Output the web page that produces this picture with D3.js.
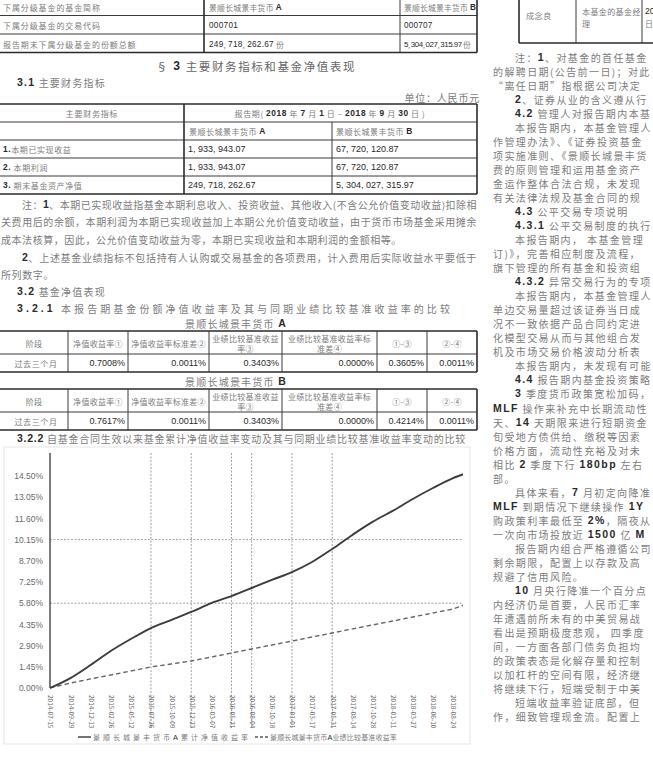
<!DOCTYPE html>
<html>
<head>
<meta charset="utf-8">
<style>
html, body { margin: 0; padding: 0; background: #fff; overflow: hidden; }
svg text { font-family: "Noto Sans CJK SC", sans-serif; fill: #7c7c7c; }
svg text .num, svg text.num { font-family: "Liberation Sans Narrow", "Liberation Sans", sans-serif; fill: #2a2a2a; }
.rule { stroke: #3a3a3a; stroke-width: 1; }
.rule-b { stroke: #2a2a2a; stroke-width: 1.6; }
</style>
</head>
<body>
<svg width="653" height="772"></svg>
<script src="https://d3js.org/d3.v7.min.js"></script>
<script>
// ---- chart data ----
var dates = ["2014-07-15","2014-09-29","2014-12-13","2015-02-26","2015-05-12","2015-07-26",
             "2015-10-09","2015-12-23","2016-03-07","2016-05-21","2016-08-04","2016-10-18",
             "2017-01-01","2017-03-17","2017-05-31","2017-08-14","2017-10-28","2018-01-11",
             "2018-03-27","2018-06-10","2018-08-24","2018-09-30"];
var fundReturn  = [0, 0.68, 1.57, 2.53, 3.35, 4.10, 4.65, 5.20, 5.81, 6.29, 6.84, 7.39,
                   7.93, 8.62, 9.51, 10.47, 11.36, 12.11, 12.93, 13.68, 14.36, 14.62];
var benchReturn = [0, 0.34, 0.62, 0.89, 1.16, 1.44, 1.64, 1.85, 2.12, 2.39, 2.67, 2.94,
                   3.21, 3.49, 3.76, 4.04, 4.31, 4.58, 4.86, 5.13, 5.40, 5.66];
var yTickValues = [0, 1.45, 2.90, 4.35, 5.80, 7.25, 8.70, 10.15, 11.60, 13.05, 14.50];
var yTickLabels = ["0.00%","1.45%","2.90%","4.35%","5.80%","7.25%","8.70%","10.15%","11.60%","13.05%","14.50%"];
var xTickDates = dates.slice(0, 21);
var vGridDates = ["2015-07-26","2015-12-23","2016-05-21","2016-08-04","2017-01-01","2017-05-31"];
var hGridValues = [5.80, 10.15];
var legendNames = ["景顺长城景丰货币A累计净值收益率", "景顺长城景丰货币A业绩比较基准收益率"];

// ---- table contents ----
var shareRows = [
  ["下属分级基金的基金简称", "景顺长城景丰货币 A", "景顺长城景丰货币 B"],
  ["下属分级基金的交易代码", "000701", "000707"],
  ["报告期末下属分级基金的份额总额", "249, 718, 262.67 份", "5, 304, 027, 315.97 份"]
];
var finRows = [
  ["1.本期已实现收益", "1, 933, 943.07", "67, 720, 120.87"],
  ["2. 本期利润", "1, 933, 943.07", "67, 720, 120.87"],
  ["3. 期末基金资产净值", "249, 718, 262.67", "5, 304, 027, 315.97"]
];
var navHeader = ["阶段", "净值收益率①", "净值收益率标准差②", "业绩比较基准收益|率③", "业绩比较基准收益率标|准差④", "①-③", "②-④"];
var navRowA = ["过去三个月", "0.7008%", "0.0011%", "0.3403%", "0.0000%", "0.3605%", "0.0011%"];
var navRowB = ["过去三个月", "0.7617%", "0.0011%", "0.3403%", "0.0000%", "0.4214%", "0.0011%"];

var svg = d3.select("svg");
var page = svg.append("g");

function fill(t, str, o) {
  str.split(/([0-9A-Za-z.%]+)/).forEach(function(s) {
    if (!s) return;
    var sp = t.append("tspan").text(s);
    if (/^[0-9A-Za-z.%]+$/.test(s) && !o.num) sp.attr("class", "num").attr("font-weight", o.bold === false ? null : "bold").attr("font-size", (o.size || 10) * 1.05);
  });
}
// text with latin/number runs set in the narrow face
function put(g, x, y, str, o) {
  o = o || {};
  var t = g.append("text").attr("x", x).attr("y", y)
      .attr("font-size", o.size || 10)
      .attr("text-anchor", o.anchor || "start")
      .attr("dominant-baseline", "central")
      .attr("letter-spacing", o.ls || 0);
  if (o.num) t.attr("class", "num");
  fill(t, str, o);
  if (o.width) {
    var len = t.node().getComputedTextLength();
    t.attr("letter-spacing", (o.width - len) / str.length);
  }
  // the page is cropped on the right: keep only what fits
  if (o.clip) {
    var s = str;
    while (s.length > 1 && x + t.node().getComputedTextLength() > o.clip) {
      s = s.slice(0, -1);
      t.selectAll("tspan").remove();
      fill(t, s, o);
    }
  }
  if (o.fill) t.style("fill", o.fill);
  return t;
}
function hline(x1, x2, y, bold) {
  page.append("line").attr("class", bold ? "rule-b" : "rule").attr("x1", x1).attr("x2", x2).attr("y1", y).attr("y2", y);
}
function vline(x, y1, y2, bold) {
  page.append("line").attr("class", bold ? "rule-b" : "rule").attr("x1", x).attr("x2", x).attr("y1", y1).attr("y2", y2);
}

// ===== top-left share table =====
var st = -3;
[st, st + 18.5, st + 37, st + 55.5].forEach(function(y, i) { hline(0, 477, y, i == 0 || i == 3); });
vline(204, 0, st + 55.5, true); vline(400, 0, st + 55.5); vline(477, 0, st + 55.5, true);
shareRows.forEach(function(r, i) {
  var y = st + 9.5 + i * 18.5;
  put(page, 3, y, r[0], {size: 8, ls: 0.9});
  put(page, 209, y, r[1], {size: 7.8, ls: 0.3, bold: i != 0 ? false : "bold"});
  put(page, 404, y, r[2], i == 2 ? {size: 7.6, width: 66, bold: false} : {size: 7.8, ls: 0.2, bold: i != 0 ? false : "bold"});
});

// ===== section 3 heading =====
put(page, 156, 66, "§ 3 主要财务指标和基金净值表现", {size: 11.5, ls: 1.6, fill: "#666"});
put(page, 17, 82, "3.1 主要财务指标", {size: 10, ls: 1.2});
put(page, 480, 97, "单位：人民币元", {size: 10, ls: 0.8, anchor: "end"});

// ===== financial indicators table =====
var ft = 104;
[ft, ft + 18, ft + 36, ft + 54, ft + 72, ft + 90].forEach(function(y, i) { hline(0, 477, y, i == 0 || i == 5); });
vline(184, ft, ft + 90, true); vline(332, ft + 18, ft + 90); vline(477, ft, ft + 90, true);
put(page, 92, ft + 9, "主要财务指标", {size: 8, ls: 0.8, anchor: "middle"});
put(page, 330, ft + 9, "报告期( 2018 年 7 月 1 日 – 2018 年 9 月 30 日 )", {size: 8, ls: 0.6, anchor: "middle"});
put(page, 189, ft + 27, "景顺长城景丰货币 A", {size: 8, ls: 0.5});
put(page, 336, ft + 27, "景顺长城景丰货币 B", {size: 8, ls: 0.5});
finRows.forEach(function(r, i) {
  var y = ft + 45 + i * 18;
  put(page, 3, y, r[0], {size: 8, ls: 0.6});
  put(page, 188, y, r[1], {size: 9, num: true});
  put(page, 336, y, r[2], {size: 9, num: true});
});

// ===== notes =====
put(page, 22, 204, "注：1、本期已实现收益指基金本期利息收入、投资收益、其他收入(不含公允价值变动收益)扣除相", {size: 10, width: 455});
put(page, 1, 221, "关费用后的余额，本期利润为本期已实现收益加上本期公允价值变动收益，由于货币市场基金采用摊余", {size: 10, width: 476});
put(page, 1, 239, "成本法核算，因此，公允价值变动收益为零，本期已实现收益和本期利润的金额相等。", {size: 10, ls: 0.55});
put(page, 22, 257, "2、上述基金业绩指标不包括持有人认购或交易基金的各项费用，计入费用后实际收益水平要低于", {size: 10, width: 455});
put(page, 1, 274, "所列数字。", {size: 10, ls: 0.6});
put(page, 17, 291, "3.2 基金净值表现", {size: 10, ls: 1.2});
put(page, 17, 308, "3.2.1 本报告期基金份额净值收益率及其与同期业绩比较基准收益率的比较", {size: 10, width: 436});

// ===== NAV comparison tables =====
var colX = [0, 68, 128, 209, 282, 377, 427, 477];
function navTable(top, title, row) {
  put(page, 236, top - 8, title, {size: 10, ls: 1.2, anchor: "middle"});
  var mid = top + 23, bot = top + 41;
  hline(0, 477, top, true); hline(0, 477, mid); hline(0, 477, bot, true);
  colX.forEach(function(x, i) { if (i > 0) vline(x, top, bot, i == 7); });
  navHeader.forEach(function(h, i) {
    var cx = (colX[i] + colX[i + 1]) / 2;
    var parts = h.split("|");
    if (parts.length == 1) put(page, cx, top + 11.5, h, {size: 8, ls: 0.3, anchor: "middle"});
    else {
      put(page, cx, top + 6.5, parts[0], {size: 8, ls: 0.3, anchor: "middle"});
      put(page, cx, top + 16.5, parts[1], {size: 8, ls: 0.3, anchor: "middle"});
    }
  });
  row.forEach(function(v, i) {
    if (i == 0) put(page, (colX[0] + colX[1]) / 2 + 2, mid + 9, v, {size: 8, ls: 0.6, anchor: "middle"});
    else put(page, colX[i + 1] - 3, mid + 9, v, {size: 9, num: true, anchor: "end"});
  });
}
navTable(331, "景顺长城景丰货币 A", navRowA);
navTable(389, "景顺长城景丰货币 B", navRowB);

put(page, 17, 438, "3.2.2 自基金合同生效以来基金累计净值收益率变动及其与同期业绩比较基准收益率变动的比较", {size: 10, width: 449});

// ===== chart =====
var chart = svg.append("g");
chart.append("rect").attr("x", 4).attr("y", 447).attr("width", 466).attr("height", 297)
    .attr("fill", "#fff").attr("stroke", "#e6e6e6");

var parse = d3.timeParse("%Y-%m-%d");
var x = d3.scaleTime().domain([parse(dates[0]), parse(dates[dates.length - 1])]).range([50, 463]);
var y = d3.scaleLinear().domain([0, 14.5]).range([688, 476]);

chart.selectAll(".vgrid").data(vGridDates).enter().append("line")
    .attr("x1", function(d) { return x(parse(d)); }).attr("x2", function(d) { return x(parse(d)); })
    .attr("y1", 453).attr("y2", 728)
    .attr("stroke", "#888").attr("stroke-width", 0.8).attr("stroke-dasharray", "2,1.5");
chart.selectAll(".hgrid").data(hGridValues).enter().append("line")
    .attr("x1", 50).attr("x2", 463).attr("y1", y).attr("y2", y)
    .attr("stroke", "#888").attr("stroke-width", 0.8).attr("stroke-dasharray", "2,1.5");

var yAxis = d3.axisLeft(y).tickValues(yTickValues).tickSize(0).tickPadding(7)
    .tickFormat(function(d, i) { return yTickLabels[i]; });
var ya = chart.append("g").attr("transform", "translate(50,0)").call(yAxis);
ya.select(".domain").attr("d", "M0,453V688").attr("stroke", "#333").attr("stroke-width", 1.3);
ya.selectAll("text").attr("font-size", 8.5).attr("class", "num").style("fill", "#6a6a6a")
    .attr("font-family", "Liberation Sans Narrow, Liberation Sans, sans-serif");

var xAxis = d3.axisBottom(x).tickValues(xTickDates.map(parse)).tickSize(0)
    .tickFormat(d3.timeFormat("%Y-%m-%d"));
var xa = chart.append("g").attr("transform", "translate(0,694)").call(xAxis);
xa.select(".domain").remove();
xa.selectAll("text").attr("font-size", 6.5).style("fill", "#666")
    .attr("font-family", "Liberation Sans Narrow, Liberation Sans, sans-serif")
    .attr("transform", "rotate(90)").attr("text-anchor", "start")
    .attr("dy", "0.32em").attr("y", 0).attr("x", 1);

var pts = dates.map(function(d, i) { return {d: parse(d), f: fundReturn[i], b: benchReturn[i]}; });
chart.append("path").datum(pts).attr("fill", "none").attr("stroke", "#666")
    .attr("stroke-width", 1.4).attr("stroke-dasharray", "4.5,3")
    .attr("d", d3.line().x(function(p) { return x(p.d); }).y(function(p) { return y(p.b); }));
chart.append("path").datum(pts).attr("fill", "none").attr("stroke", "#3c3c3c")
    .attr("stroke-width", 1.9)
    .attr("d", d3.line().curve(d3.curveMonotoneX).x(function(p) { return x(p.d); }).y(function(p) { return y(p.f); }));

// legend
var lg = chart.append("g").attr("transform", "translate(78,737)");
lg.append("line").attr("x1", 0).attr("x2", 13).attr("stroke", "#444").attr("stroke-width", 1.5);
put(lg, 15, 0, legendNames[0], {size: 7, width: 158, bold: false});
lg.append("line").attr("x1", 177).attr("x2", 190).attr("stroke", "#555").attr("stroke-width", 1.3).attr("stroke-dasharray", "3,2");
put(lg, 192, 0, legendNames[1], {size: 7, width: 127, bold: false});

// ===== right column =====
var rc = svg.append("g");
var rt = 43;
vline(519, 0, rt, true); vline(576, 0, rt); vline(642, 0, rt);
hline(519, 653, rt, true);
put(rc, 526, 15, "成念良", {size: 8, ls: 0.6});
put(rc, 582, 11, "本基金的基金经", {size: 8, ls: 0.4});
put(rc, 582, 23, "理", {size: 8});
put(rc, 645, 11, "20", {size: 8.5, num: true});
put(rc, 645, 23, "日", {size: 8});

var rightLines = [
  [1, "注：1、对基金的首任基金经理"],
  [0, "的解聘日期(公告前一日)；对此后"],
  [0, "“离任日期”指根据公司决定的"],
  [1, "2、证券从业的含义遵从行业"],
  [1, "4.2 管理人对报告期内本基金"],
  [1, "本报告期内，本基金管理人"],
  [0, "作管理办法》、《证券投资基金销"],
  [0, "项实施准则、《景顺长城景丰货币"],
  [0, "费的原则管理和运用基金资产，"],
  [0, "金运作整体合法合规，未发现有"],
  [0, "有关法律法规及基金合同的规定"],
  [1, "4.3 公平交易专项说明"],
  [1, "4.3.1 公平交易制度的执行"],
  [1, "本报告期内， 本基金管理人"],
  [0, "订)》，完善相应制度及流程，通过"],
  [0, "旗下管理的所有基金和投资组合"],
  [1, "4.3.2 异常交易行为的专项"],
  [1, "本报告期内，本基金管理人"],
  [0, "单边交易量超过该证券当日成交"],
  [0, "况不一致依据产品合同约定进行"],
  [0, "化模型交易从而与其他组合发生"],
  [0, "机及市场交易价格波动分析表明"],
  [1, "本报告期内，未发现有可能"],
  [1, "4.4 报告期内基金投资策略"],
  [1, "3 季度货币政策宽松加码，"],
  [0, "MLF 操作来补充中长期流动性"],
  [0, "天、14 天期限来进行短期资金"],
  [0, "旬受地方债供给、缴税等因素"],
  [0, "价格方面，流动性充裕及对未来"],
  [0, "相比 2 季度下行 180bp 左右，"],
  [0, "部。"],
  [1, "具体来看，7 月初定向降准"],
  [0, "MLF 到期情况下继续操作 1Y"],
  [0, "购政策利率最低至 2%，隔夜从"],
  [0, "一次向市场投放近 1500 亿 MLF"],
  [1, "报告期内组合严格遵循公司"],
  [0, "剩余期限，配置上以存款及高等"],
  [0, "规避了信用风险。"],
  [1, "10 月央行降准一个百分点，"],
  [0, "内经济仍是首要，人民币汇率"],
  [0, "年遭遇前所未有的中美贸易战"],
  [0, "看出是预期极度悲观， 四季度"],
  [0, "间，一方面各部门债务负担均"],
  [0, "的政策表态是化解存量和控制"],
  [0, "以加杠杆的空间有限，经济继续"],
  [0, "将继续下行，短端受制于中美"],
  [1, "短端收益率验证底部，但"],
  [0, "作，细致管理现金流。配置上"]
];
rightLines.forEach(function(l, i) {
  put(rc, l[0] ? 515 : 493, 57 + i * 14.02, l[1], {size: 10, ls: 1.4, clip: 652});
});
</script>
</body>
</html>
